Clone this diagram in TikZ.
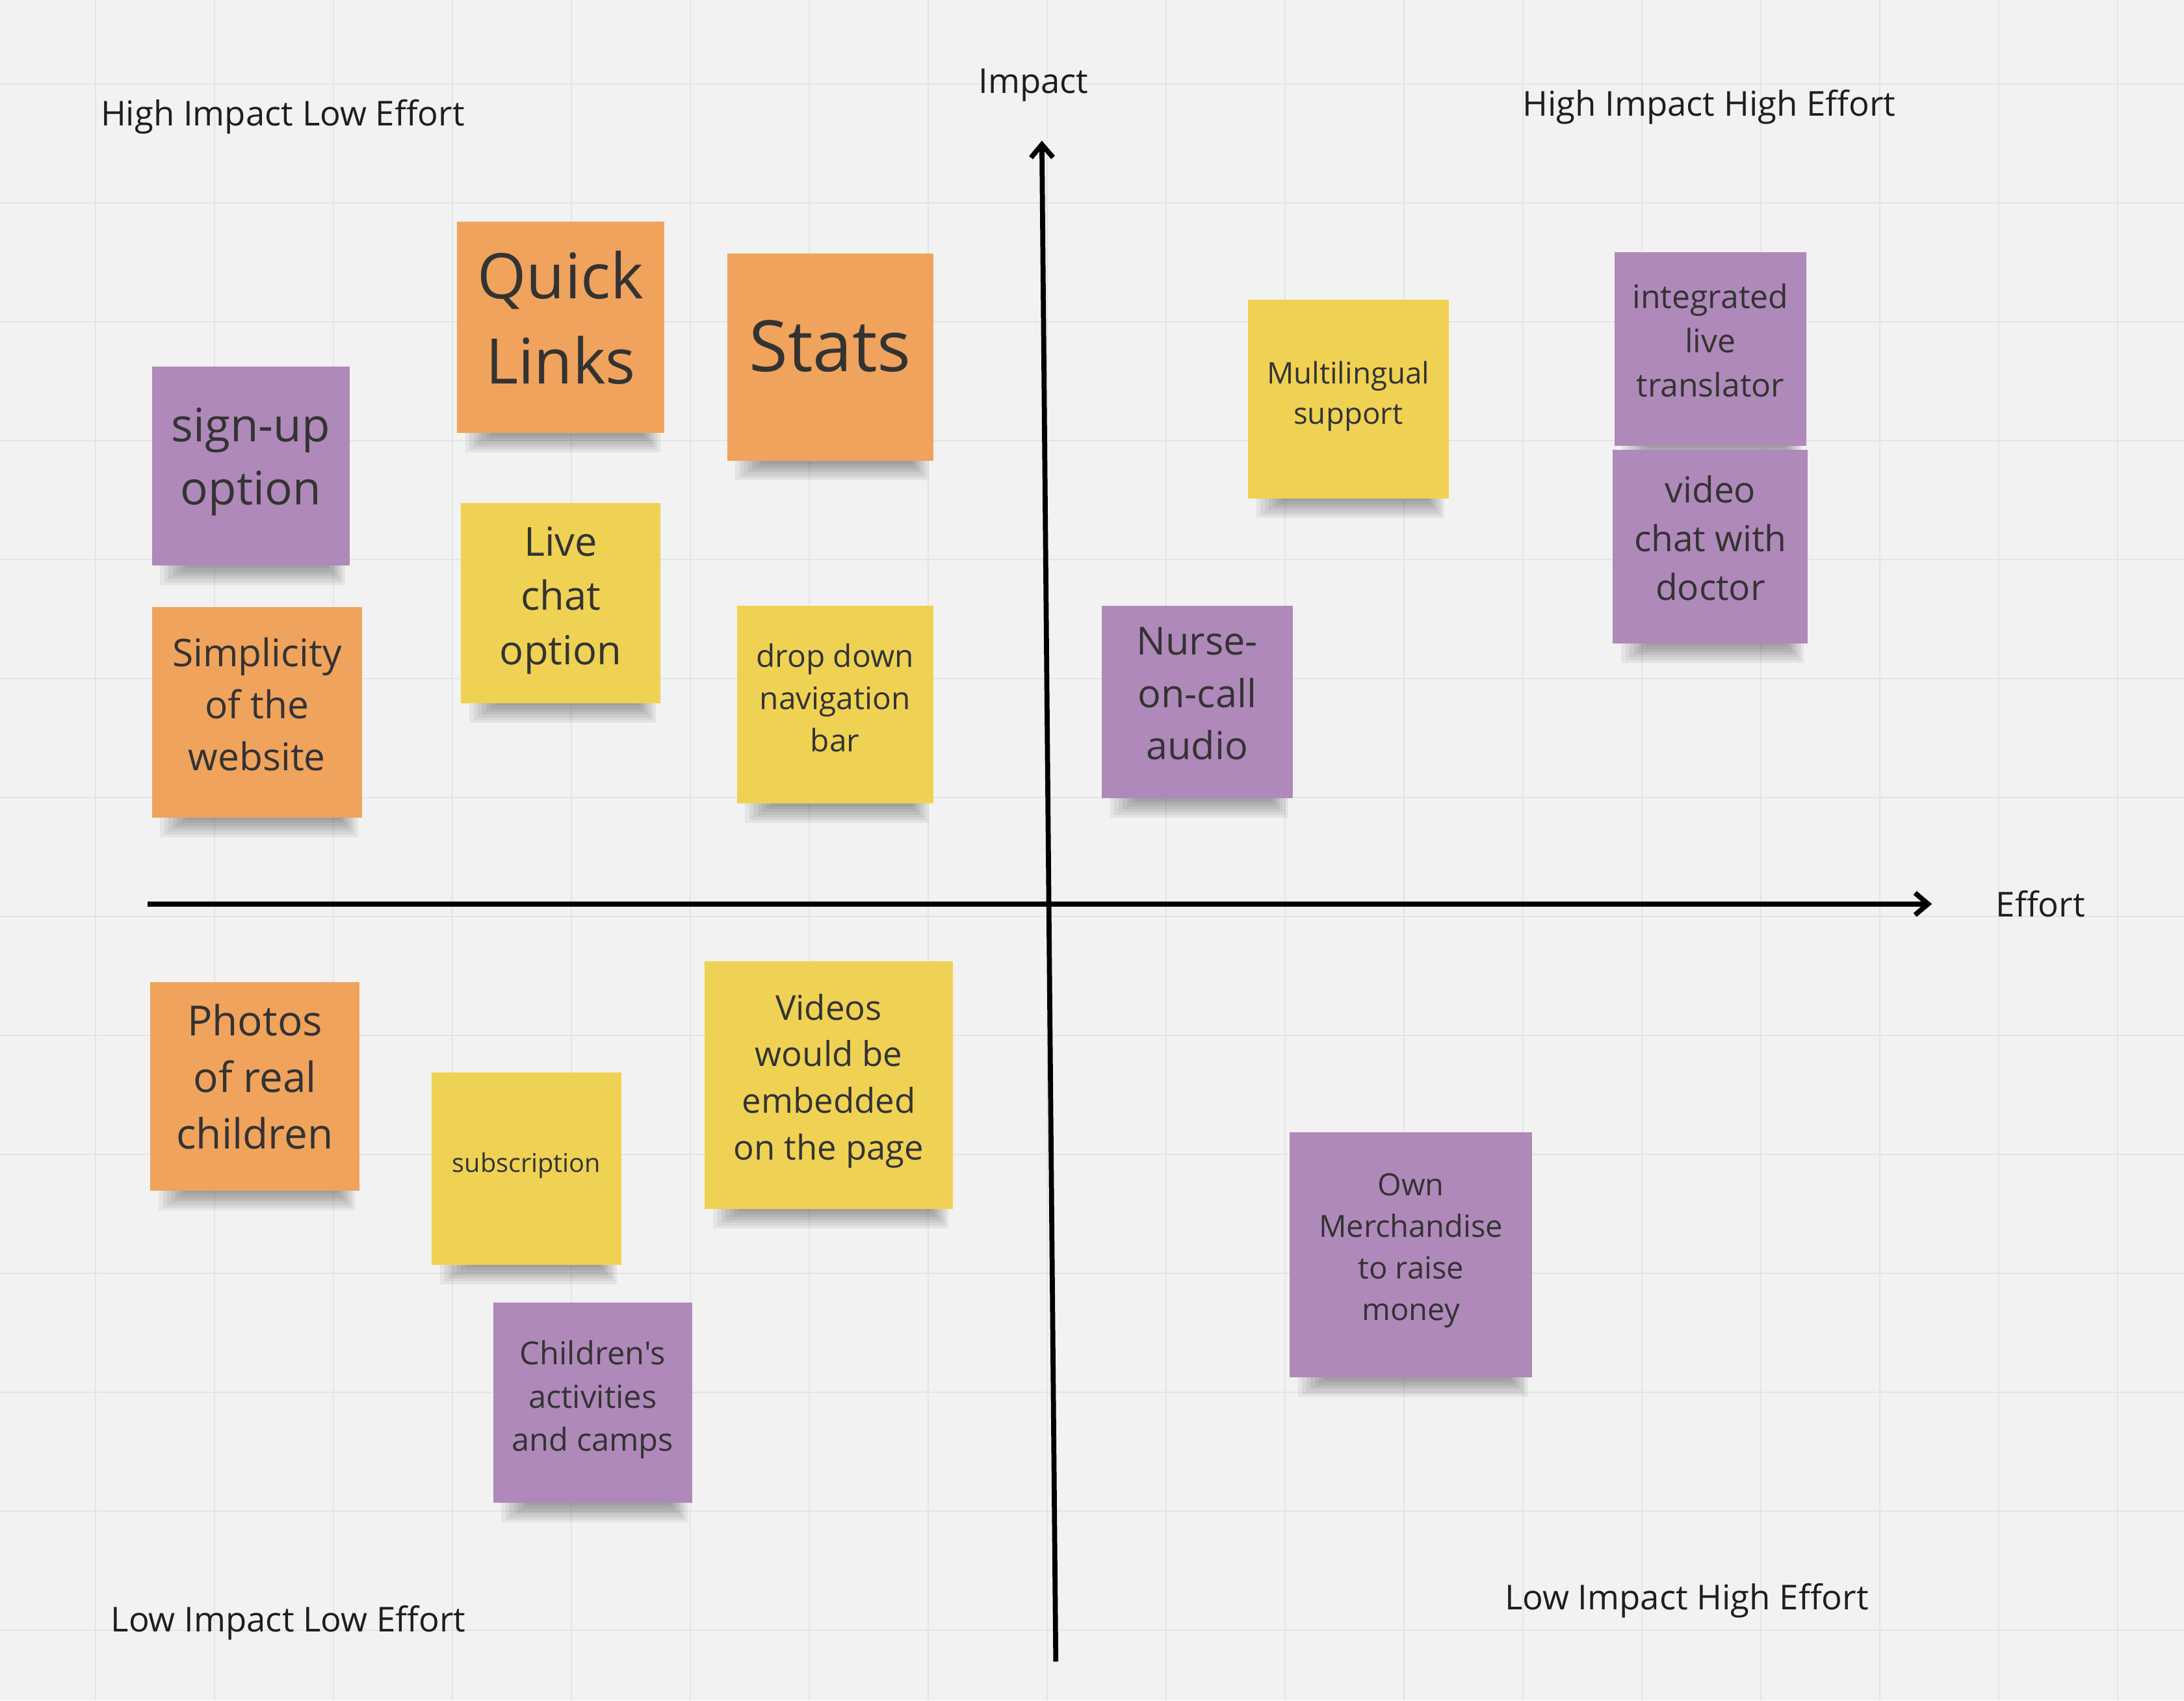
\documentclass[tikz,border=0pt]{standalone}
\usepackage{fontspec}
\setmainfont{Open Sans}[Ligatures=TeXOff]
\usetikzlibrary{arrows.meta}
\definecolor{boardbg}{HTML}{F2F2F2}
\definecolor{gridline}{HTML}{E4E4E4}
\definecolor{notepurple}{HTML}{AF89B9}
\definecolor{noteorange}{HTML}{F0A35C}
\definecolor{noteyellow}{HTML}{EFD253}
\definecolor{notetext}{HTML}{333333}
\definecolor{labeltext}{HTML}{1E1E1E}
\tikzset{
  notebody/.style={align=center, text=notetext, inner sep=0pt},
  noteshade/.style={fill=black, opacity=0.055}
}
% #1 name, #2 colour, #3-#6 corners, #7 font size, #8 text lift, #9 text
\newcommand{\stickynote}[9]{%
  \begin{scope}
    \foreach \k in {0,...,6}
      \fill[noteshade] (#3+6+3*\k,#6-3) rectangle (#5-3-2*\k,#6+14-2*\k);
    \fill[#2] (#3,#4) rectangle (#5,#6);
    \node[notebody, font={\fontsize{#7}{\fpeval{1.36*#7}}\selectfont}]
      (#1) at ({(#3+#5)/2},{(#4+#6)/2-#8}) {#9};
  \end{scope}%
}

\begin{document}
\begin{tikzpicture}[x=0.2142857mm,y=-0.2142857mm]

  % --- styles ---
  \tikzset{
    gridbg/.style={draw=gridline, line width=0.55pt},
    axisline/.style={draw=black, line width=2.2pt,
      -{Straight Barb[length=2mm,width=3.4mm]}},
    boardlabel/.style={text=labeltext, inner sep=0pt,
      font={\fontsize{15}{18}\selectfont}},
  }

  % --- background & grid ---
  \useasboundingbox (0,0) rectangle (1568,1221);
  \fill[boardbg] (0,0) rectangle (1568,1221);
  \foreach \gx in {0,...,17}
    \draw[gridbg] ({68.6+85.4*\gx},0) -- ++(0,1221);
  \foreach \gy in {0,...,13}
    \draw[gridbg] (0,{60.2+85.4*\gy}) -- ++(1568,0);

  % =========================
  %  AXES
  % =========================

  \coordinate (imptop) at (748,101);
  \coordinate (impbot) at (758,1193);
  \coordinate (effleft) at (106,649);
  \coordinate (efftip) at (1387,649);
  \draw[axisline] (impbot) -- (imptop);
  \draw[axisline] (effleft) -- (efftip);

  % =========================
  %  STICKY NOTES
  % =========================

  \stickynote{signup}{notepurple}{109}{263}{251}{406}{20.2}{3}{sign-up\\option}
  \stickynote{quicklinks}{noteorange}{328}{159}{477}{311}{27.5}{7}{Quick\\Links}
  \stickynote{stats}{noteorange}{522}{182}{670}{331}{31}{8}{Stats}
  \stickynote{livechat}{noteyellow}{331}{361}{474}{505}{17.5}{2}{Live\\chat\\option}
  \stickynote{simplicity}{noteorange}{109}{436}{260}{587}{16.7}{6}{Simplicity\\of the\\website}
  \stickynote{dropdown}{noteyellow}{529}{435}{670}{577}{13.6}{5}{drop down\\navigation\\bar}
  \stickynote{multilingual}{noteyellow}{896}{215}{1040}{358}{13}{2}{Multilingual\\support}
  \stickynote{nurse}{notepurple}{791}{435}{928}{573}{16.9}{6}{Nurse-\\on-call\\audio}
  \stickynote{translator}{notepurple}{1159}{181}{1297}{320}{14.2}{6}{integrated\\live\\translator}
  \stickynote{videochat}{notepurple}{1158}{323}{1298}{462}{15.7}{6}{video\\chat with\\doctor}

  \stickynote{photos}{noteorange}{108}{705}{258}{855}{18.2}{7}{Photos\\of real\\children}
  \stickynote{subscription}{noteyellow}{310}{770}{446}{908}{11.3}{2}{subscription}
  \stickynote{videos}{noteyellow}{506}{690}{684}{868}{15}{3}{Videos\\would be\\embedded\\on the page}
  \stickynote{camps}{notepurple}{354}{935}{497}{1079}{13.9}{2}{Children's\\activities\\and camps}
  \stickynote{merch}{notepurple}{926}{813}{1100}{989}{13.4}{3}{Own\\Merchandise\\to raise\\money}

  % =========================
  %  QUADRANT & AXIS LABELS
  % =========================

  \node[boardlabel] (impactlbl) at (742,61) {Impact};
  \node[boardlabel] (effortlbl) at (1465,649) {Effort};
  \node[boardlabel] (hilelbl) at (203,84) {High Impact Low Effort};
  \node[boardlabel] (hihelbl) at (1227,77) {High Impact High Effort};
  \node[boardlabel] (lolelbl) at (207,1165) {Low Impact Low Effort};
  \node[boardlabel] (lohelbl) at (1211,1149) {Low Impact High Effort};

\end{tikzpicture}
\end{document}
